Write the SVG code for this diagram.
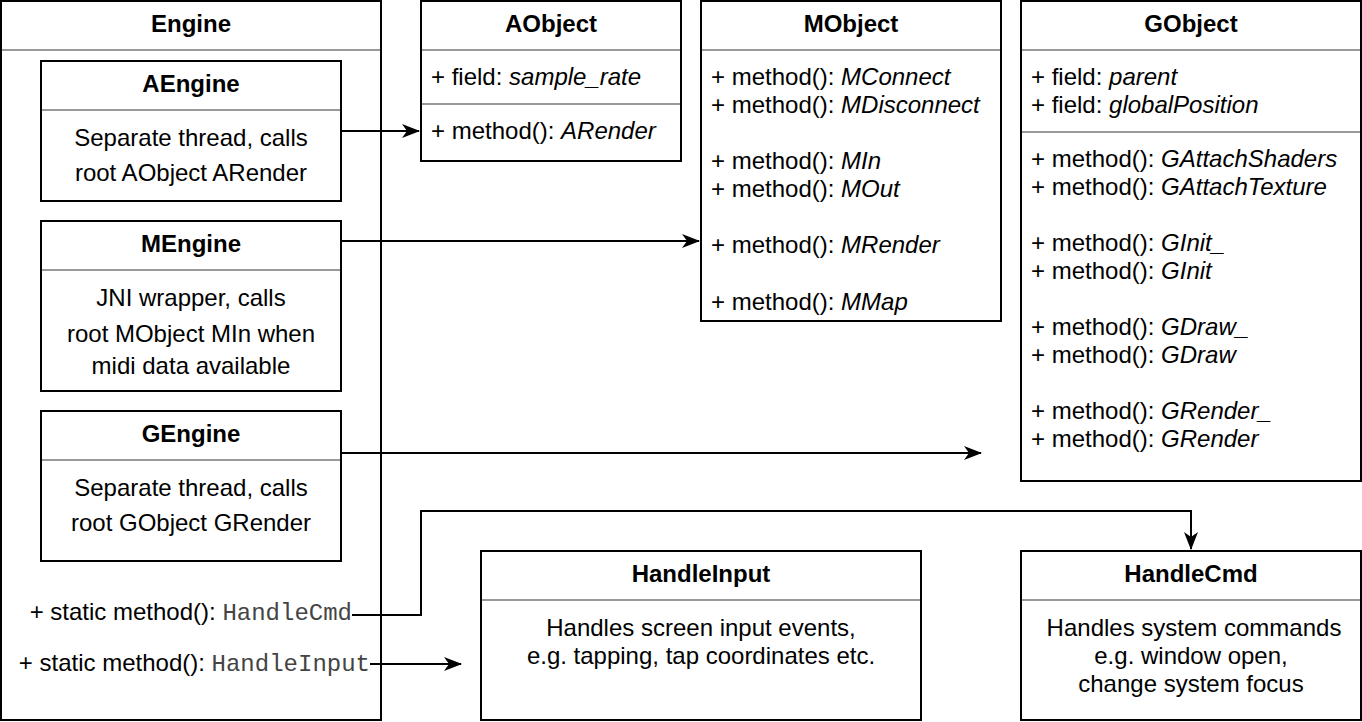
<svg xmlns="http://www.w3.org/2000/svg" width="1362" height="722" viewBox="0 0 1362 722">
<style>
.box{fill:#fff;stroke:#000;stroke-width:2}
.sep{stroke:#999;stroke-width:2}
text{font-family:"Liberation Sans",Arial,sans-serif;font-size:24px;fill:#000}
.t{font-weight:bold;text-anchor:middle}
.c{text-anchor:middle}
.i{font-style:italic}
.m{font-family:"Liberation Mono","Courier New",monospace;font-size:24px;fill:#444}
.e{fill:none;stroke:#000;stroke-width:2}
</style>
<defs>
<marker id="ar" markerWidth="18" markerHeight="14" refX="17" refY="7" orient="auto" markerUnits="userSpaceOnUse">
<path d="M0,0 L18,7 L0,14 L5,7 z" fill="#000"/>
</marker>
</defs>
<rect width="1362" height="722" fill="#fff"/>
<g id="engine">
<rect class="box" x="1" y="1" width="380" height="719"/>
<line class="sep" x1="2" y1="50" x2="380" y2="50"/>
<text class="t" x="191" y="32">Engine</text>
<text x="352" y="620" text-anchor="end">+ static method(): <tspan class="m">HandleCmd</tspan></text>
<text x="370" y="671" text-anchor="end">+ static method(): <tspan class="m">HandleInput</tspan></text>
</g>
<g id="aengine">
<rect class="box" x="41" y="61" width="300" height="140"/>
<line class="sep" x1="42" y1="110" x2="340" y2="110"/>
<text class="t" x="191" y="92">AEngine</text>
<text class="c" x="191" y="146">Separate thread, calls</text>
<text class="c" x="191" y="181">root AObject ARender</text>
</g>
<g id="mengine">
<rect class="box" x="41" y="221" width="300" height="170"/>
<line class="sep" x1="42" y1="270" x2="340" y2="270"/>
<text class="t" x="191" y="252">MEngine</text>
<text class="c" x="191" y="306">JNI wrapper, calls</text>
<text class="c" x="191" y="342">root MObject MIn when</text>
<text class="c" x="191" y="374">midi data available</text>
</g>
<g id="gengine">
<rect class="box" x="41" y="411" width="300" height="150"/>
<line class="sep" x1="42" y1="460" x2="340" y2="460"/>
<text class="t" x="191" y="442">GEngine</text>
<text class="c" x="191" y="496">Separate thread, calls</text>
<text class="c" x="191" y="531">root GObject GRender</text>
</g>
<g id="aobject">
<rect class="box" x="421" y="1" width="260" height="160"/>
<line class="sep" x1="422" y1="50" x2="680" y2="50"/>
<line class="sep" x1="422" y1="104" x2="680" y2="104"/>
<text class="t" x="551" y="32">AObject</text>
<text x="431" y="85">+ field: <tspan class="i">sample_rate</tspan></text>
<text x="431" y="139">+ method(): <tspan class="i">ARender</tspan></text>
</g>
<g id="mobject">
<rect class="box" x="701" y="1" width="300" height="320"/>
<line class="sep" x1="702" y1="50" x2="1000" y2="50"/>
<text class="t" x="851" y="32">MObject</text>
<text x="711" y="85">+ method(): <tspan class="i">MConnect</tspan></text>
<text x="711" y="113">+ method(): <tspan class="i">MDisconnect</tspan></text>
<text x="711" y="169">+ method(): <tspan class="i">MIn</tspan></text>
<text x="711" y="197">+ method(): <tspan class="i">MOut</tspan></text>
<text x="711" y="253">+ method(): <tspan class="i">MRender</tspan></text>
<text x="711" y="310">+ method(): <tspan class="i">MMap</tspan></text>
</g>
<g id="gobject">
<rect class="box" x="1021" y="1" width="340" height="480"/>
<line class="sep" x1="1022" y1="50" x2="1360" y2="50"/>
<line class="sep" x1="1022" y1="132" x2="1360" y2="132"/>
<text class="t" x="1191" y="32">GObject</text>
<text x="1031" y="85">+ field: <tspan class="i">parent</tspan></text>
<text x="1031" y="113">+ field: <tspan class="i">globalPosition</tspan></text>
<text x="1031" y="167">+ method(): <tspan class="i">GAttachShaders</tspan></text>
<text x="1031" y="195">+ method(): <tspan class="i">GAttachTexture</tspan></text>
<text x="1031" y="251">+ method(): <tspan class="i">GInit_</tspan></text>
<text x="1031" y="279">+ method(): <tspan class="i">GInit</tspan></text>
<text x="1031" y="335">+ method(): <tspan class="i">GDraw_</tspan></text>
<text x="1031" y="363">+ method(): <tspan class="i">GDraw</tspan></text>
<text x="1031" y="419">+ method(): <tspan class="i">GRender_</tspan></text>
<text x="1031" y="447">+ method(): <tspan class="i">GRender</tspan></text>
</g>
<g id="handleinput">
<rect class="box" x="481" y="551" width="440" height="169"/>
<line class="sep" x1="482" y1="600" x2="920" y2="600"/>
<text class="t" x="701" y="582">HandleInput</text>
<text class="c" x="701" y="636">Handles screen input events,</text>
<text class="c" x="701" y="664">e.g. tapping, tap coordinates etc.</text>
</g>
<g id="handlecmd">
<rect class="box" x="1021" y="551" width="340" height="169"/>
<line class="sep" x1="1022" y1="600" x2="1360" y2="600"/>
<text class="t" x="1191" y="582">HandleCmd</text>
<text class="c" x="1194" y="636">Handles system commands</text>
<text class="c" x="1191" y="664">e.g. window open,</text>
<text class="c" x="1191" y="692">change system focus</text>
</g>
<g id="connectors">
<path class="e" d="M341,131 L419,131" marker-end="url(#ar)"/>
<path class="e" d="M341,241 L699,241" marker-end="url(#ar)"/>
<path class="e" d="M341,453 L981,453" marker-end="url(#ar)"/>
<path class="e" d="M352,615 L421,615 L421,511 L1191,511 L1191,549" marker-end="url(#ar)"/>
<path class="e" d="M370,664 L461,664" marker-end="url(#ar)"/>
</g>
</svg>
